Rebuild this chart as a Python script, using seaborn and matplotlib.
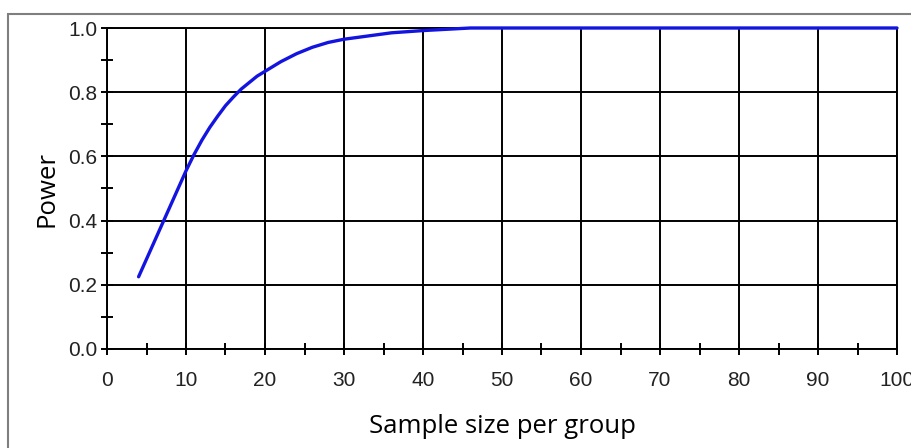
import matplotlib
matplotlib.use("Agg")
import matplotlib.pyplot as plt
import seaborn as sns
import pandas as pd
from matplotlib.patches import Rectangle
from matplotlib.ticker import MultipleLocator

# valores
sample_size = [4, 5, 6, 7, 8, 9, 10, 11, 12, 13, 14, 15, 16, 17, 18, 19, 20,
               22, 24, 26, 28, 30, 33, 36, 40, 43, 46, 50, 60, 70, 80, 90, 100]
power = [0.225, 0.28, 0.335, 0.39, 0.445, 0.50, 0.555, 0.605, 0.65, 0.69, 0.725,
         0.758, 0.785, 0.81, 0.83, 0.85, 0.865, 0.895, 0.92, 0.94, 0.955, 0.965,
         0.975, 0.985, 0.992, 0.996, 1.0, 1.0, 1.0, 1.0, 1.0, 1.0, 1.0]

df = pd.DataFrame({"n": sample_size, "power": power})

sns.set_theme(style="white")
plt.rcParams["font.family"] = ["Liberation Sans", "DejaVu Sans"]

W, H = 912, 448
fig = plt.figure(figsize=(W / 100, H / 100), dpi=100)
ax = fig.add_axes([107 / W, 1 - 349 / H, (897 - 107) / W, (349 - 28) / H])

# moldura cinza externa
fig.patches.append(Rectangle((8 / W, -0.1), 1.2, 1 - 14 / H + 0.1,
                             transform=fig.transFigure, fill=False,
                             edgecolor="#7f7f7f", linewidth=1.5))

sns.lineplot(data=df, x="n", y="power", ax=ax, color="#1414e0",
             linewidth=2.4, clip_on=False, zorder=5)

ax.set_xlim(0, 100)
ax.set_ylim(0, 1.0)
ax.xaxis.set_major_locator(MultipleLocator(10))
ax.xaxis.set_minor_locator(MultipleLocator(5))
ax.yaxis.set_major_locator(MultipleLocator(0.2))
ax.yaxis.set_minor_locator(MultipleLocator(0.1))
ax.set_yticks([0.0, 0.2, 0.4, 0.6, 0.8, 1.0])
ax.set_yticklabels(["0.0", "0.2", "0.4", "0.6", "0.8", "1.0"])

ax.grid(True, which="major", color="black", linewidth=1.4)
ax.set_axisbelow(True)
for s in ax.spines.values():
    s.set_color("black")
    s.set_linewidth(1.4)

ax.tick_params(which="both", direction="inout", color="black", width=1.4,
               labelsize=15, labelcolor="#222222")
ax.tick_params(which="major", length=8)
ax.tick_params(which="minor", length=8)
ax.tick_params(axis="x", which="both", pad=12, bottom=True)
ax.tick_params(axis="y", which="both", pad=3, left=True)

ax.set_xlabel("Sample size per group", fontsize=18.5, family=["Open Sans"],
              color="black", labelpad=17)
ax.set_ylabel("Power", fontsize=18.5, family=["Open Sans"], color="black",
              labelpad=6)

fig.savefig("out.png", dpi=100, facecolor="white")
